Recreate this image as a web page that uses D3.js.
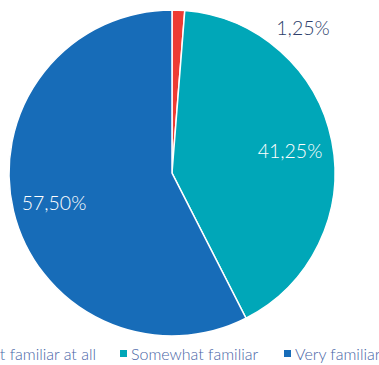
<!DOCTYPE html>
<html><head><meta charset="utf-8">
<script src="https://cdn.jsdelivr.net/npm/d3@7"></script>
<style>body{margin:0;background:#fff;overflow:hidden}svg{display:block}</style>
</head><body>
<svg id="chart" width="379" height="365"></svg>
<script>
const categories = ["Not familiar at all", "Somewhat familiar", "Very familiar"];
const values = [1.25, 41.25, 57.5];
const labels = ["1,25%", "41,25%", "57,50%"];
const colors = ["#ee3b33", "#00a7b8", "#176cb8"];

const svg = d3.select("#chart");
const cx = 172, cy = 173, r = 163;
const font = "Lato, 'Open Sans', sans-serif";

const pie = d3.pie().sort(null).value(d => d)(values);
const arc = d3.arc().innerRadius(0).outerRadius(r);
const g = svg.append("g").attr("transform", `translate(${cx},${cy})`);

g.selectAll("path").data(pie).join("path")
  .attr("d", arc).attr("fill", (d, i) => colors[i])
  .attr("stroke", "#fff").attr("stroke-width", 1.5);

// value labels: the thin slice gets its label outside the pie
const labelPos = [[131, -138], [118, -15], [-118, 37]];
g.selectAll("text.val").data(pie).join("text").attr("class", "val")
  .attr("x", (d, i) => labelPos[i][0]).attr("y", (d, i) => labelPos[i][1])
  .attr("text-anchor", "middle").attr("font-family", font)
  .attr("font-size", 19.5).attr("font-weight", 300)
  .attr("fill", (d, i) => i === 0 ? "#2c3e6b" : "#fff")
  .text((d, i) => labels[i]);

// legend row (runs past both edges of the canvas)
const lg = svg.append("g").attr("transform", "translate(0,360)");
const items = [
  {sq: null, tx: 96, anchor: "end"},
  {sq: 120, tx: 131, anchor: "start"},
  {sq: 284, tx: 295, anchor: "start"}
];
categories.forEach((c, i) => {
  const it = items[i];
  const t = lg.append("text").attr("x", it.tx).attr("y", 0)
    .attr("text-anchor", it.anchor)
    .attr("font-family", font).attr("font-size", 16).attr("font-weight", 300)
    .attr("fill", "#4865a6").text(c);
  const sx = it.sq !== null ? it.sq : it.tx - t.node().getComputedTextLength() - 11;
  lg.append("rect").attr("x", sx).attr("y", -10).attr("width", 7).attr("height", 7)
    .attr("fill", colors[i]);
});
</script>
</body></html>
